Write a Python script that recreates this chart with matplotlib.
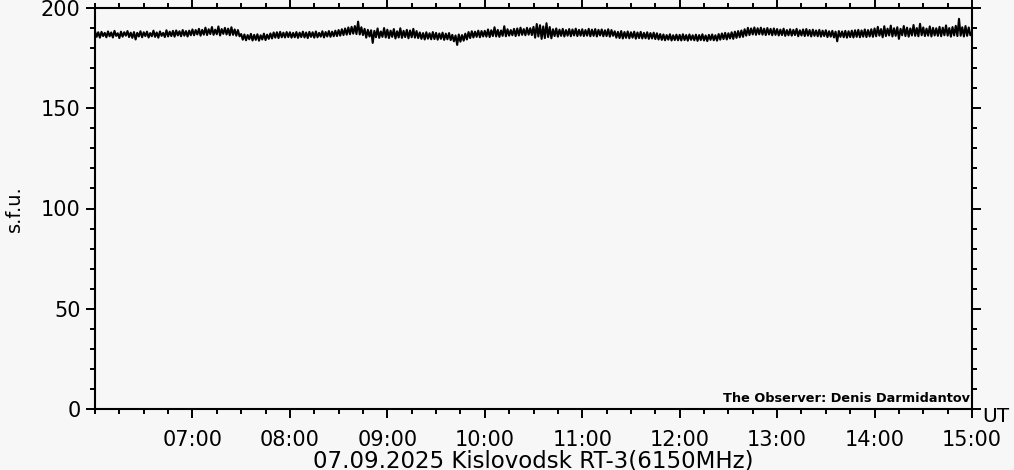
import numpy as np
import matplotlib
matplotlib.use("Agg")
import matplotlib.pyplot as plt
from matplotlib.ticker import MultipleLocator, FixedLocator, FuncFormatter

# flux in s.f.u., one reading per minute
flux_06 = [188.4, 185.6, 187.9, 185.2, 188.1, 186.0, 187.6, 185.4, 188.3, 185.9,
           187.8, 185.3, 188.6, 186.1, 187.4, 185.0, 188.2, 185.7, 187.9, 186.2,
           188.5, 185.5, 187.7, 185.1, 188.0, 184.3, 187.6, 185.8, 188.4, 185.4,
           187.9, 186.0, 188.2, 185.3, 187.5, 185.9, 188.7, 185.6, 187.8, 185.2,
           188.3, 186.1, 187.6, 185.5, 188.9, 185.8, 188.2, 186.0, 188.6, 185.7,
           188.8, 186.3, 188.4, 185.9, 189.0, 186.2, 188.5, 185.8, 188.7, 186.4]
flux_07 = [189.3, 186.4, 189.0, 186.8, 189.6, 186.2, 189.1, 186.7, 190.2, 186.5,
           189.4, 187.0, 190.5, 186.6, 189.2, 186.9, 190.8, 186.3, 189.5, 187.1,
           190.1, 186.8, 189.7, 186.4, 190.4, 186.6, 189.3, 186.2, 189.0, 185.9,
           187.0, 184.2, 186.8, 183.9, 186.5, 184.4, 187.1, 183.8, 186.6, 184.1,
           186.9, 183.7, 186.4, 184.3, 187.2, 184.0, 186.7, 184.6, 187.3, 184.8,
           187.8, 185.2, 187.9, 185.0, 188.1, 185.4, 187.7, 185.3, 188.0, 185.5]
flux_08 = [187.9, 185.2, 187.6, 185.4, 188.0, 185.1, 187.7, 185.5, 188.2, 185.3,
           187.8, 185.0, 188.1, 185.6, 187.9, 185.2, 188.3, 185.4, 187.6, 185.7,
           188.4, 185.3, 188.0, 185.8, 188.5, 185.6, 188.2, 185.9, 188.7, 186.0,
           189.0, 186.2, 189.4, 186.5, 189.8, 186.7, 190.3, 186.9, 190.6, 187.2,
           191.0, 187.0, 193.2, 186.8, 190.4, 186.5, 189.6, 185.2, 189.1, 185.8,
           188.9, 182.6, 188.6, 185.4, 189.8, 185.1, 188.3, 185.6, 190.0, 185.3]
flux_09 = [189.2, 185.0, 188.7, 185.6, 189.5, 184.8, 188.4, 185.3, 189.9, 185.1,
           188.6, 185.5, 189.1, 184.9, 188.8, 185.4, 189.6, 185.2, 188.5, 185.0,
           187.8, 184.6, 187.5, 184.3, 187.9, 184.7, 187.4, 184.4, 188.0, 184.5,
           187.6, 184.2, 187.3, 184.6, 187.7, 184.1, 187.2, 184.4, 187.5, 184.0,
           186.6, 183.4, 186.3, 181.6, 186.8, 183.2, 186.5, 183.7, 187.2, 184.3,
           188.0, 185.0, 188.4, 185.3, 188.2, 185.6, 188.7, 185.4, 188.5, 185.8]
flux_10 = [188.6, 185.7, 189.3, 185.5, 188.9, 186.0, 190.4, 185.8, 189.1, 185.6,
           188.8, 186.1, 190.9, 185.9, 189.4, 186.2, 189.0, 186.4, 189.6, 186.0,
           189.8, 186.3, 190.2, 186.6, 189.5, 186.4, 190.1, 186.7, 189.9, 186.5,
           190.6, 185.2, 192.0, 185.8, 191.4, 184.6, 190.8, 185.0, 192.4, 185.5,
           190.5, 184.9, 189.4, 186.0, 189.8, 185.7, 189.2, 186.1, 189.6, 185.8,
           189.0, 186.2, 189.5, 185.9, 189.3, 186.3, 189.7, 186.0, 189.1, 186.2]
flux_11 = [189.4, 186.0, 189.0, 186.2, 189.6, 185.9, 189.2, 186.1, 189.5, 185.8,
           189.1, 186.3, 189.3, 185.9, 188.9, 186.0, 189.4, 185.7, 189.0, 186.1,
           188.4, 185.2, 188.1, 185.0, 188.5, 184.8, 188.0, 185.1, 188.3, 184.9,
           187.9, 185.2, 188.2, 184.7, 187.8, 185.0, 188.1, 184.8, 187.6, 184.9,
           187.9, 184.6, 187.5, 184.8, 187.7, 184.5, 187.4, 184.3, 187.0, 184.1,
           186.8, 183.9, 186.5, 184.2, 186.9, 183.8, 186.4, 184.0, 186.7, 183.9]
flux_12 = [186.6, 183.8, 186.9, 184.0, 186.5, 183.7, 186.8, 184.1, 186.4, 183.9,
           186.7, 183.6, 186.5, 184.0, 186.9, 183.8, 186.3, 183.5, 186.6, 184.1,
           186.8, 183.9, 186.4, 183.7, 187.0, 184.2, 187.3, 184.5, 187.6, 184.3,
           187.4, 184.8, 187.9, 184.6, 188.2, 185.1, 188.5, 185.4, 188.8, 185.6,
           189.4, 186.2, 190.1, 186.5, 189.8, 186.8, 190.3, 186.6, 189.9, 186.9,
           190.2, 186.7, 189.7, 186.5, 190.0, 186.8, 189.6, 186.4, 189.8, 186.6]
flux_13 = [189.5, 186.3, 189.2, 186.5, 189.7, 186.1, 189.0, 186.4, 189.4, 186.2,
           189.1, 186.5, 189.6, 185.9, 188.9, 186.3, 189.3, 186.0, 189.5, 186.2,
           189.0, 185.8, 189.2, 186.1, 188.8, 185.9, 189.1, 185.7, 188.7, 186.0,
           188.9, 185.5, 188.4, 185.7, 188.6, 185.3, 188.2, 183.4, 188.5, 185.6,
           188.3, 185.4, 188.6, 185.2, 188.4, 185.5, 188.7, 185.3, 188.9, 185.6,
           189.1, 185.4, 188.8, 185.7, 189.3, 185.5, 189.0, 185.8, 189.4, 185.6]
flux_14 = [189.8, 185.9, 190.6, 186.2, 189.5, 185.4, 190.9, 186.0, 189.7, 186.3,
           191.2, 185.8, 189.9, 186.1, 190.4, 184.6, 189.6, 186.4, 191.0, 186.0,
           190.2, 185.7, 189.8, 186.3, 191.5, 186.1, 190.0, 185.9, 192.1, 186.4,
           190.3, 186.0, 189.7, 186.2, 190.8, 185.8, 190.1, 186.3, 189.9, 186.1,
           190.6, 185.9, 190.2, 186.4, 191.3, 186.2, 190.0, 185.7, 190.5, 186.3,
           191.1, 186.0, 194.6, 186.2, 190.4, 185.8, 191.0, 186.1, 190.3, 186.4]
flux_end = [188.0]

start_hour = 6
end_hour = 15
hour_ticks = [7, 8, 9, 10, 11, 12, 13, 14, 15]

title = "07.09.2025 Kislovodsk RT-3(6150MHz)"
observer = "The Observer: Denis Darmidantov"

flux = np.array(flux_06 + flux_07 + flux_08 + flux_09 + flux_10 + flux_11
                + flux_12 + flux_13 + flux_14 + flux_end)
hours = start_hour + np.arange(len(flux)) / 60.0

bg = "#f7f7f7"
fig = plt.figure(figsize=(10.14, 4.70), dpi=100, facecolor=bg)
ax = fig.add_axes([95 / 1014, 61 / 470, 877 / 1014, 401 / 470], facecolor=bg)

ax.plot(hours, flux, color="black", lw=1.5)

ax.set_xlim(start_hour, end_hour)
ax.set_ylim(0, 200)

ax.xaxis.set_major_locator(FixedLocator(hour_ticks))
ax.xaxis.set_minor_locator(MultipleLocator(0.25))
ax.xaxis.set_major_formatter(FuncFormatter(lambda v, p: "%02d:00" % int(round(v))))
ax.yaxis.set_major_locator(MultipleLocator(50))
ax.yaxis.set_minor_locator(MultipleLocator(10))

for s in ax.spines.values():
    s.set_linewidth(1.5)

ax.tick_params(which="both", direction="out", top=True, right=True,
               width=1.4, color="black")
ax.tick_params(which="major", length=6.5)
ax.tick_params(which="minor", length=3.4)
ax.tick_params(axis="x", which="major", labelsize=15, pad=8.5)
ax.tick_params(axis="y", which="major", labelsize=15, pad=4)

ax.text(0.998, 0.018, observer, transform=ax.transAxes, ha="right",
        va="baseline", fontsize=9.3, fontweight="bold")

fig.text(982 / 1014, 1 - 416 / 470, "UT", ha="left", va="center", fontsize=14.5)
fig.text(533.5 / 1014, 3 / 470, title, ha="center", va="baseline", fontsize=16.5)
fig.text(14 / 1014, 1 - 209 / 470, "s.f.u.", rotation=90, ha="center",
         va="center", fontsize=14)

fig.savefig("out.png", dpi=100, facecolor=bg)
